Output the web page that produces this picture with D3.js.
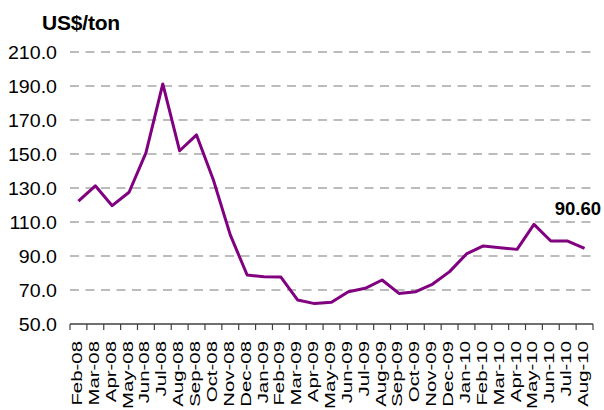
<!DOCTYPE html>
<html>
<head>
<meta charset="utf-8">
<script src="https://cdn.jsdelivr.net/npm/d3@7"></script>
<style>
  body { margin: 0; background: #fff; }
  text { font-family: "Liberation Sans", Arial, sans-serif; fill: #000; }
</style>
</head>
<body>
<svg id="chart" width="604" height="410"></svg>
<script>
// monthly categories and price readings (US$/ton)
const months = ["Feb-08", "Mar-08", "Apr-08", "May-08", "Jun-08", "Jul-08", "Aug-08", "Sep-08",
  "Oct-08", "Nov-08", "Dec-08", "Jan-09", "Feb-09", "Mar-09", "Apr-09", "May-09", "Jun-09",
  "Jul-09", "Aug-09", "Sep-09", "Oct-09", "Nov-09", "Dec-09", "Jan-10", "Feb-10", "Mar-10",
  "Apr-10", "May-10", "Jun-10", "Jul-10", "Aug-10"];
const prices = [122.3, 131.3, 119.6, 127.5, 150.7, 191.2, 151.9, 161.2,
  134.7, 102.4, 78.8, 77.8, 77.6, 64.1, 62.0, 62.8, 69.0,
  71.0, 75.9, 68.0, 69.0, 73.5, 80.8, 91.2, 95.9, 94.9,
  93.9, 108.6, 98.8, 98.8, 94.5];
const yTicks = [50, 70, 90, 110, 130, 150, 170, 190, 210];
const unitLabel = "US$/ton";
const lastLabel = "90.60";

const svg = d3.select("#chart");

const x = d3.scaleBand().domain(months).range([70, 593]).padding(0);
const y = d3.scaleLinear().domain([50, 210]).range([324, 52]);

// dashed gridlines (skip the base value, the axis sits there)
svg.append("g")
  .selectAll("line")
  .data(yTicks.filter(d => d > 50))
  .join("line")
  .attr("x1", 70)
  .attr("x2", 593)
  .attr("y1", d => y(d))
  .attr("y2", d => y(d))
  .attr("stroke", "#a6a6a6")
  .attr("stroke-width", 1.4)
  .attr("stroke-dasharray", "9,6.5");

// y tick labels
svg.append("g")
  .selectAll("text")
  .data(yTicks)
  .join("text")
  .attr("x", 57)
  .attr("y", d => y(d))
  .attr("dy", "0.36em")
  .attr("text-anchor", "end")
  .attr("transform", "translate(57,0) scale(1.06,1) translate(-57,0)")
  .style("font-size", "18.5px")
  .text(d => d.toFixed(1));

// x axis line and ticks at category boundaries
const axisY = y(50);
svg.append("line")
  .attr("x1", 70).attr("x2", 593)
  .attr("y1", axisY).attr("y2", axisY)
  .attr("stroke", "#404040")
  .attr("stroke-width", 1.3);

const bounds = months.map(m => x(m)).concat([x(months[months.length - 1]) + x.bandwidth()]);
svg.append("g")
  .selectAll("line")
  .data(bounds)
  .join("line")
  .attr("x1", d => d).attr("x2", d => d)
  .attr("y1", axisY).attr("y2", axisY + 6)
  .attr("stroke", "#404040")
  .attr("stroke-width", 1.2);

// rotated month labels, stretched along their length like the original
svg.append("g")
  .selectAll("text")
  .data(months)
  .join("text")
  .attr("transform", d => `translate(${x(d) + x.bandwidth() / 2 + 3.5},341) rotate(-90) scale(1.36,1)`)
  .attr("text-anchor", "end")
  .style("font-size", "15px")
  .text(d => d);

// price line
const line = d3.line()
  .x((d, i) => x(months[i]) + x.bandwidth() / 2)
  .y(d => y(d));

svg.append("path")
  .datum(prices)
  .attr("d", line)
  .attr("fill", "none")
  .attr("stroke", "#800080")
  .attr("stroke-width", 3)
  .attr("stroke-linejoin", "round");

// unit title and latest value
svg.append("text")
  .attr("x", 42).attr("y", 30)
  .style("font-size", "21px")
  .style("font-weight", "bold")
  .style("letter-spacing", "-0.2px")
  .text(unitLabel);

svg.append("text")
  .attr("x", 601).attr("y", 215)
  .attr("text-anchor", "end")
  .style("font-size", "18.5px")
  .style("font-weight", "bold")
  .text(lastLabel);
</script>
</body>
</html>
